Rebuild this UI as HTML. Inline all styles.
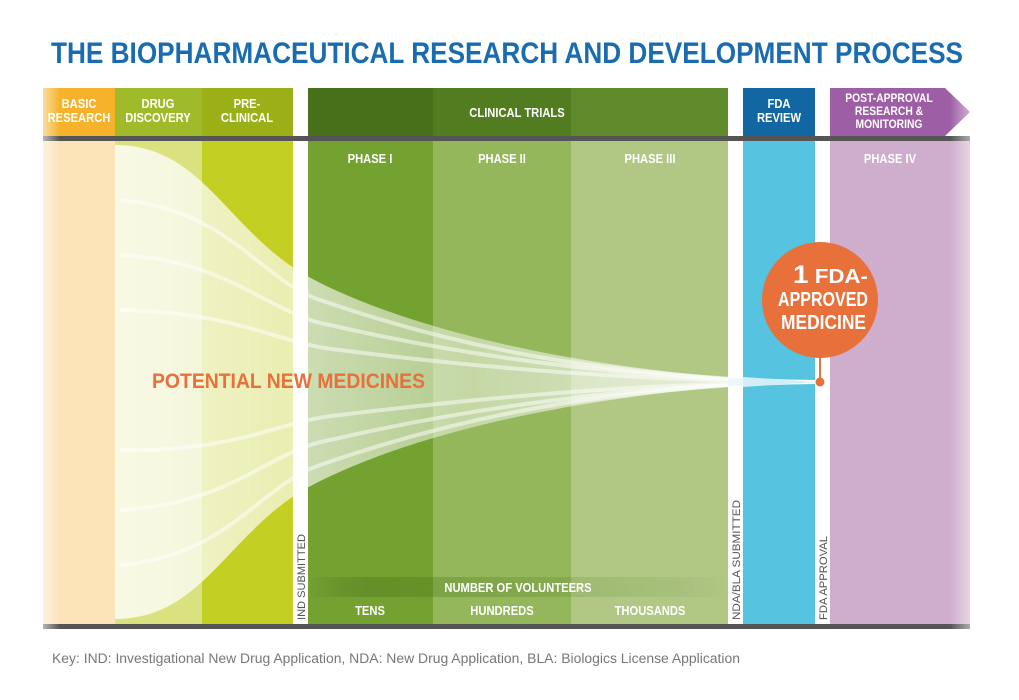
<!DOCTYPE html>
<html><head><meta charset="utf-8"><style>
html,body{margin:0;padding:0;background:#fff;width:1019px;height:700px;overflow:hidden}
text{font-family:"Liberation Sans Narrow","Liberation Sans",sans-serif}
.b{font-weight:bold}
.r{font-weight:normal}
</style></head><body>
<svg width="1019" height="700" viewBox="0 0 1019 700">
<defs>
<linearGradient id="fadeL" x1="0" x2="1"><stop offset="0" stop-color="#fff" stop-opacity="1"/><stop offset="1" stop-color="#fff" stop-opacity="0"/></linearGradient>
<linearGradient id="fadeR" x1="0" x2="1"><stop offset="0" stop-color="#fff" stop-opacity="0"/><stop offset="1" stop-color="#fff" stop-opacity="1"/></linearGradient>
<linearGradient id="funnel" x1="0" x2="1"><stop offset="0" stop-color="#fff" stop-opacity="0.8"/><stop offset="0.25" stop-color="#fff" stop-opacity="0.65"/><stop offset="0.5" stop-color="#fff" stop-opacity="0.45"/><stop offset="1" stop-color="#fff" stop-opacity="0.75"/></linearGradient>
<linearGradient id="volband" x1="0" x2="1"><stop offset="0" stop-color="#000" stop-opacity="0"/><stop offset="0.2" stop-color="#3d6a10" stop-opacity="0.3"/><stop offset="0.8" stop-color="#3d6a10" stop-opacity="0.1"/><stop offset="1" stop-color="#000" stop-opacity="0"/></linearGradient>
</defs>
<text class="b" x="507" y="63" text-anchor="middle" font-size="30" fill="#1a6cb0" textLength="912" lengthAdjust="spacingAndGlyphs">THE BIOPHARMACEUTICAL RESEARCH AND DEVELOPMENT PROCESS</text>

<g>
<rect x="43" y="88" width="72" height="48" fill="#f5b22a"/>
<rect x="115" y="88" width="87" height="48" fill="#9fbb2a"/>
<rect x="202" y="88" width="91" height="48" fill="#9bb016"/>
<rect x="308" y="88" width="125" height="48" fill="#46701a"/>
<rect x="433" y="88" width="138" height="48" fill="#527c20"/>
<rect x="571" y="88" width="157" height="48" fill="#5e8a2c"/>
<rect x="743" y="88" width="72" height="48" fill="#1266a2"/>
<polygon points="830,88 945,88 970,112 945,136 830,136" fill="#9e5ea6"/>
</g>
<rect x="43" y="136" width="927" height="5" fill="#555"/>

<rect x="43" y="141" width="72" height="483" fill="#fde3b8"/>
<rect x="115" y="141" width="87" height="483" fill="#d9e27e"/>
<rect x="202" y="141" width="91" height="483" fill="#c3cf22"/>
<rect x="308" y="141" width="125" height="483" fill="#74a231"/>
<rect x="433" y="141" width="138" height="483" fill="#93b75a"/>
<rect x="571" y="141" width="157" height="483" fill="#b0c884"/>
<rect x="743" y="141" width="72" height="483" fill="#56c3e0"/>
<rect x="830" y="141" width="140" height="483" fill="#cfadcd"/>
<rect x="43" y="624" width="927" height="5" fill="#555"/>
<rect x="30" y="85" width="30" height="550" fill="url(#fadeL)"/>
<rect x="950" y="85" width="40" height="550" fill="url(#fadeR)"/>

<g>
<path d="M115,145 C200,145 225,225 300,272 C400,330 600,376 815,382 C600,388 400,434 300,492 C225,539 200,619 115,619 Z" fill="url(#funnel)"/>
<g fill="none" stroke="#fff" stroke-opacity="0.5" stroke-width="4">
<path d="M120,200 C230,210 260,280 320,300 C450,345 600,378 815,382"/>
<path d="M120,255 C230,260 270,315 330,325 C460,355 620,379 815,382"/>
<path d="M120,310 C240,312 280,345 340,350 C480,368 640,381 815,382"/>
<path d="M120,450 C240,452 280,420 340,415 C480,398 640,383 815,382"/>
<path d="M120,510 C230,505 270,450 330,440 C460,410 620,385 815,382"/>
<path d="M120,565 C230,555 260,485 320,465 C450,420 600,386 815,382"/>
</g>
</g>
<rect x="293" y="141" width="15" height="483" fill="#fff"/>
<rect x="728" y="141" width="15" height="483" fill="#fff"/>
<rect x="815" y="141" width="15" height="483" fill="#fff"/>
<path d="M728,378 L815,382 L728,386 Z" fill="#eaf6fa" opacity="0.9"/>
<path d="M743,377 L815,382 L743,387 Z" fill="#d4eef7"/>

<g fill="#fff" font-size="13" text-anchor="middle" class="b">
<text class="b n" x="79" y="108"><tspan x="79">BASIC</tspan><tspan x="79" dy="14">RESEARCH</tspan></text>
<text class="b n" x="158" y="108"><tspan x="158">DRUG</tspan><tspan x="158" dy="14">DISCOVERY</tspan></text>
<text class="b n" x="247" y="108"><tspan x="247">PRE-</tspan><tspan x="247" dy="14">CLINICAL</tspan></text>
<text class="b n" x="517" y="117">CLINICAL TRIALS</text>
<text class="b n" x="779" y="108"><tspan x="779">FDA</tspan><tspan x="779" dy="14">REVIEW</tspan></text>
<text class="b n" x="889" y="102" font-size="12"><tspan x="889">POST-APPROVAL</tspan><tspan x="889" dy="13">RESEARCH &amp;</tspan><tspan x="889" dy="13">MONITORING</tspan></text>
<text class="b n" x="370" y="163" font-size="13">PHASE I</text>
<text class="b n" x="502" y="163" font-size="13">PHASE II</text>
<text class="b n" x="650" y="163" font-size="13">PHASE III</text>
<text class="b n" x="890" y="163" font-size="13">PHASE IV</text>
</g>

<text class="b" x="152" y="388" font-size="21" fill="#e8703a" textLength="273" lengthAdjust="spacingAndGlyphs">POTENTIAL NEW MEDICINES</text>

<rect x="308" y="577" width="420" height="20" fill="url(#volband)"/>
<g fill="#fff" font-size="13" text-anchor="middle">
<text class="b n" x="518" y="592">NUMBER OF VOLUNTEERS</text>
<text class="b n" x="370" y="615">TENS</text>
<text class="b n" x="502" y="615">HUNDREDS</text>
<text class="b n" x="650" y="615">THOUSANDS</text>
</g>

<g fill="#555" font-size="11">
<text class="r" transform="translate(305,620) rotate(-90)" textLength="86" lengthAdjust="spacingAndGlyphs">IND SUBMITTED</text>
<text class="r" transform="translate(740,620) rotate(-90)" textLength="120" lengthAdjust="spacingAndGlyphs">NDA/BLA SUBMITTED</text>
<text class="r" transform="translate(827,620) rotate(-90)" textLength="84" lengthAdjust="spacingAndGlyphs">FDA APPROVAL</text>
</g>

<g>
<line x1="820" y1="350" x2="820" y2="382" stroke="#e8703a" stroke-width="2"/>
<circle cx="820" cy="382" r="4.5" fill="#e8703a"/>
<circle cx="820" cy="300" r="58" fill="#e8703a"/>
<g fill="#fff" font-size="20">
<text class="b" x="793" y="283" textLength="75" lengthAdjust="spacingAndGlyphs"><tspan font-size="25">1</tspan> FDA-</text>
<text class="b" x="778" y="306" textLength="90" lengthAdjust="spacingAndGlyphs">APPROVED</text>
<text class="b" x="781" y="329" textLength="85" lengthAdjust="spacingAndGlyphs">MEDICINE</text>
</g>
</g>

<text class="r" x="52" y="663" font-size="13.5" fill="#777" textLength="688" lengthAdjust="spacingAndGlyphs">Key: IND: Investigational New Drug Application, NDA: New Drug Application, BLA: Biologics License Application</text>
</svg>
<script>
document.querySelectorAll('text.n').forEach(function(t){
  var ts=t.querySelectorAll('tspan');
  var items=ts.length?Array.prototype.slice.call(ts):[t];
  items.forEach(function(e){
    var w=e.getComputedTextLength();
    e.setAttribute('textLength',(w*0.86).toFixed(1));
    e.setAttribute('lengthAdjust','spacingAndGlyphs');
  });
});
</script>
</body></html>
